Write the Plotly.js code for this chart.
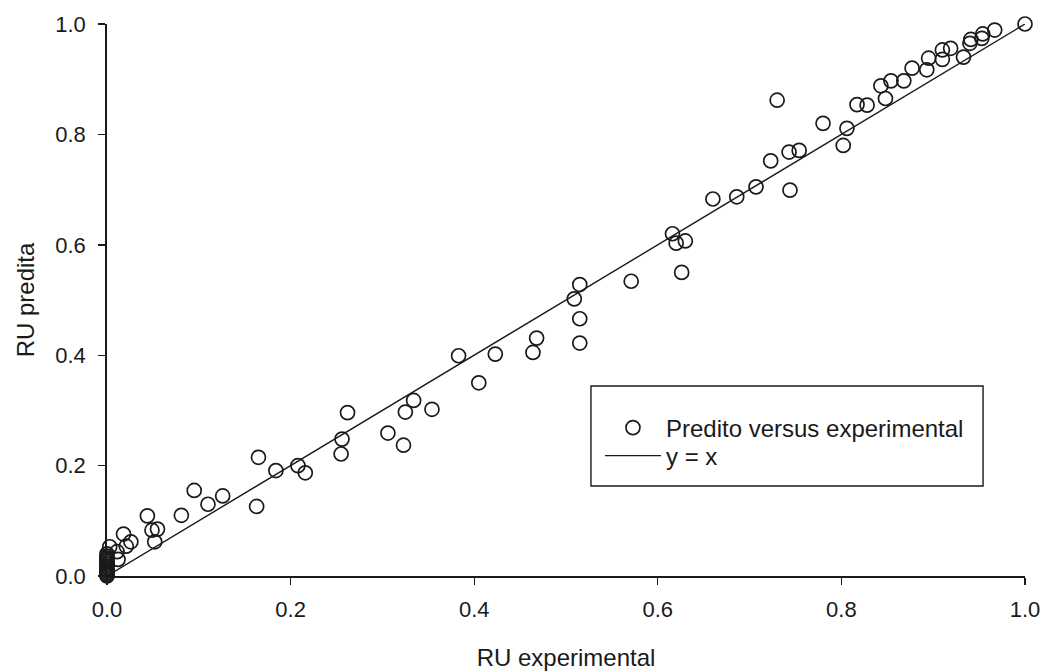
<!DOCTYPE html>
<html>
<head>
<meta charset="utf-8">
<script src="https://cdn.plot.ly/plotly-3.0.1.min.js"></script>
<style>
  html, body { margin: 0; padding: 0; background: #fff; }
  #chart { width: 1048px; height: 671px; }
</style>
</head>
<body>
<div id="chart"></div>
<script>
// RU experimental vs RU predita
const ruExperimental = [
  0, 0, 0, 0, 0, 0, 0, 0, 0, 0, 0, 0, 0, 0,
  0.003, 0.011, 0.012, 0.018, 0.021, 0.026, 0.044, 0.049, 0.055, 0.052,
  0.081, 0.095, 0.110, 0.126, 0.165, 0.163, 0.184, 0.208, 0.216, 0.256,
  0.255, 0.262, 0.306, 0.323, 0.325, 0.334, 0.354, 0.383, 0.405, 0.423,
  0.464, 0.468, 0.515, 0.515, 0.509, 0.515, 0.571, 0.616, 0.620, 0.630,
  0.626, 0.660, 0.686, 0.707, 0.744, 0.723, 0.743, 0.754, 0.730, 0.780,
  0.802, 0.806, 0.817, 0.828, 0.843, 0.848, 0.854, 0.868, 0.877, 0.893,
  0.895, 0.910, 0.910, 0.919, 0.933, 0.940, 0.941, 0.953, 0.954, 0.967,
  1.000
];
const ruPredita = [
  0.000, 0.003, 0.006, 0.009, 0.012, 0.015, 0.018, 0.021, 0.024, 0.027, 0.030, 0.033, 0.036, 0.040,
  0.053, 0.044, 0.030, 0.076, 0.054, 0.062, 0.109, 0.083, 0.085, 0.062,
  0.110, 0.155, 0.130, 0.145, 0.215, 0.126, 0.191, 0.200, 0.187, 0.248,
  0.221, 0.296, 0.259, 0.237, 0.297, 0.318, 0.302, 0.399, 0.350, 0.402,
  0.405, 0.431, 0.422, 0.466, 0.502, 0.528, 0.534, 0.620, 0.603, 0.607,
  0.550, 0.683, 0.687, 0.705, 0.699, 0.752, 0.768, 0.771, 0.862, 0.820,
  0.780, 0.811, 0.854, 0.853, 0.888, 0.865, 0.897, 0.897, 0.920, 0.917,
  0.938, 0.936, 0.953, 0.956, 0.940, 0.965, 0.972, 0.974, 0.982, 0.989,
  1.000
];
const identityX = [0, 1];
const identityY = [0, 1];
const tickVals = [0, 0.2, 0.4, 0.6, 0.8, 1.0];
const tickText = ['0.0', '0.2', '0.4', '0.6', '0.8', '1.0'];

const FONT = 'Liberation Sans, Arial, sans-serif';
const INK = '#1a1a1a';

const traces = [
  {
    x: ruExperimental, y: ruPredita,
    type: 'scatter', mode: 'markers',
    name: 'Predito versus experimental',
    legend: 'legend',
    cliponaxis: false,
    marker: { symbol: 'circle-open', size: 14, color: INK, line: { width: 1.7, color: INK } }
  },
  {
    x: identityX, y: identityY,
    type: 'scatter', mode: 'lines',
    name: 'y = x',
    legend: 'legend2',
    cliponaxis: false,
    line: { color: INK, width: 1.4 }
  }
];

const axisCommon = {
  range: [0, 1],
  tickvals: tickVals,
  ticktext: tickText,
  showgrid: false,
  zeroline: false,
  showline: true,
  linecolor: INK,
  linewidth: 1.8,
  ticks: 'outside',
  ticklen: 7,
  tickwidth: 1.4,
  tickcolor: INK,
  tickfont: { family: FONT, size: 22, color: INK },
  automargin: false
};

// one row per legend so each entry sits at its own height inside the framed box
const legendCommon = {
  xanchor: 'left', yanchor: 'middle',
  bgcolor: 'rgba(0,0,0,0)', borderwidth: 0,
  font: { family: FONT, size: 24, color: INK },
  itemwidth: 56
};

const layout = {
  width: 1048, height: 671,
  paper_bgcolor: '#ffffff', plot_bgcolor: '#ffffff',
  margin: { l: 107, r: 23, t: 24, b: 95 },
  showlegend: true,
  font: { family: FONT, color: INK },
  xaxis: Object.assign({}, axisCommon, {
    ticklabelstandoff: 6,
    title: { text: 'RU experimental', font: { family: FONT, size: 24, color: INK }, standoff: 30 }
  }),
  yaxis: Object.assign({}, axisCommon, {
    ticklabelstandoff: 8,
    title: { text: 'RU predita', font: { family: FONT, size: 24, color: INK }, standoff: 14 }
  }),
  legend: Object.assign({}, legendCommon, { x: 0.537, y: 0.2681 }),
  legend2: Object.assign({}, legendCommon, { x: 0.537, y: 0.2174 }),
  shapes: [
    {
      type: 'rect', xref: 'paper', yref: 'paper',
      x0: 0.5272, x1: 0.9543, y0: 0.163, y1: 0.3442,
      line: { color: INK, width: 1.4 }, fillcolor: 'rgba(0,0,0,0)', layer: 'below'
    }
  ]
};

Plotly.newPlot('chart', traces, layout, { displayModeBar: false, staticPlot: true });
</script>
</body>
</html>
